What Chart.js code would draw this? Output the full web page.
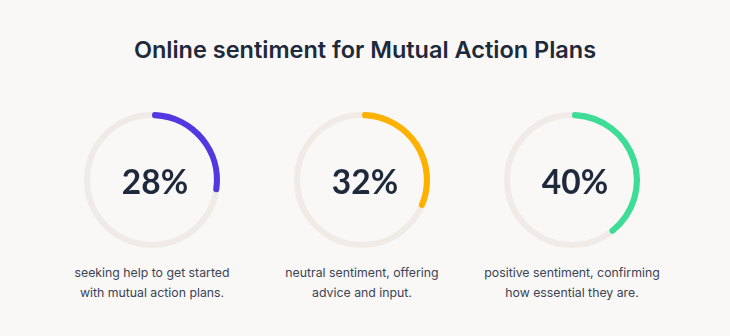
<!DOCTYPE html>
<html><head><meta charset="utf-8">
<script src="https://cdn.jsdelivr.net/npm/chart.js@4"></script>
<style>
html,body{margin:0;padding:0;background:#f9f8f7;}
#wrap{position:relative;width:730px;height:336px;overflow:hidden;font-family:Inter,"Open Sans",sans-serif;}
h1{position:absolute;left:0;top:35px;width:730px;margin:0;text-align:center;font-size:23.5px;line-height:30px;font-weight:600;color:#1e293b;letter-spacing:0;}
.cv{position:absolute;width:150px;height:150px;}
.pct{position:absolute;width:150px;text-align:center;font-family:Lato,Inter,sans-serif;font-size:33.5px;line-height:40px;font-weight:700;color:#1e293b;}
.lbl{position:absolute;width:220px;text-align:center;font-size:12.3px;line-height:20px;color:#3b4354;}
</style></head>
<body><div id="wrap">
<h1 id="title"></h1>
</div>
<script>
const titleText = "Online sentiment for Mutual Action Plans";
const categories = ["seeking help to get started\nwith mutual action plans.", "neutral sentiment, offering\nadvice and input.", "positive sentiment, confirming\nhow essential they are."];
const values = [28, 32, 40];
const colors = ["#5138e0", "#ffb100", "#3ddc97"];
const trackColor = "#f0ebe7";
const centersX = [152, 362, 572];
const centerY = 180;

document.getElementById('title').textContent = titleText;
const wrap = document.getElementById('wrap');

const trackPlugin = {
  id: 'track',
  beforeDatasetsDraw(chart) {
    const arc = chart.getDatasetMeta(0).data[0];
    if (!arc) return;
    const {x, y, innerRadius, outerRadius} = arc.getProps(['x','y','innerRadius','outerRadius'], true);
    const ctx = chart.ctx;
    ctx.save();
    ctx.beginPath();
    ctx.arc(x, y, (innerRadius + outerRadius) / 2, 0, Math.PI * 2);
    ctx.lineWidth = outerRadius - innerRadius;
    ctx.strokeStyle = trackColor;
    ctx.stroke();
    ctx.restore();
  }
};

values.forEach((v, i) => {
  const c = document.createElement('canvas');
  c.className = 'cv';
  c.style.left = (centersX[i] - 75) + 'px';
  c.style.top = (centerY - 75) + 'px';
  c.width = 150; c.height = 150;
  wrap.appendChild(c);

  const p = document.createElement('div');
  p.className = 'pct';
  p.textContent = v + '%';
  p.style.left = (centersX[i] - 75 + 3) + 'px';
  p.style.top = (centerY - 19) + 'px';
  wrap.appendChild(p);

  const l = document.createElement('div');
  l.className = 'lbl';
  l.innerHTML = categories[i].split('\n').join('<br>');
  l.style.left = (centersX[i] - 110) + 'px';
  l.style.top = '263px';
  wrap.appendChild(l);

  new Chart(c, {
    type: 'doughnut',
    data: {
      labels: ['value', 'rest'],
      datasets: [{
        data: [v, 100 - v],
        backgroundColor: [colors[i], 'rgba(0,0,0,0)'],
        borderWidth: 0,
        borderRadius: ctx => ctx.dataIndex === 0 ? 3 : 0
      }]
    },
    options: {
      responsive: false,
      animation: false,
      radius: 68,
      cutout: '91%',
      layout: {padding: 0},
      plugins: {legend: {display: false}, tooltip: {enabled: false}},
      events: []
    },
    plugins: [trackPlugin]
  });
});
</script>
</body></html>
